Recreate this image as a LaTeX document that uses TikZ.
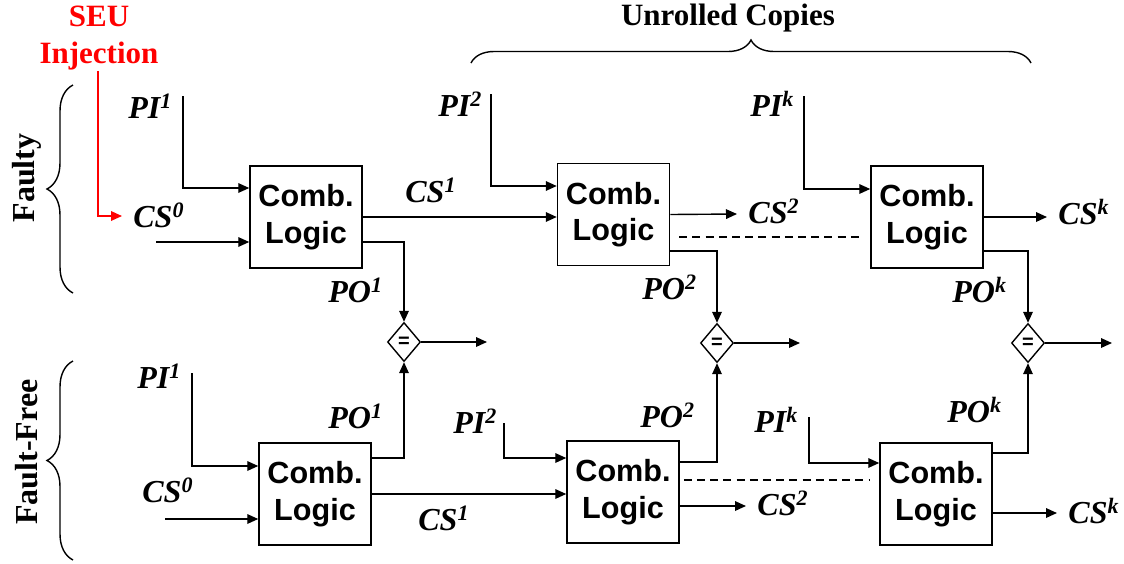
\documentclass[tikz,border=0pt]{standalone}
\usepackage{fontspec}
\setmainfont{Liberation Serif}
\newfontfamily\arialfont{Liberation Sans}
\usetikzlibrary{arrows.meta,shapes.geometric,decorations.pathreplacing}
\newcommand\ssup[1]{\raisebox{4.6pt}{\fontsize{11}{11}\selectfont #1}}
\begin{document}
\begin{tikzpicture}[x=0.5pt,y=-0.5pt,
  logic/.style={draw, line width=0.75pt, minimum width=56pt, minimum height=51pt, inner sep=0pt,
    align=center, font=\arialfont\bfseries\fontsize{15.3}{18.3}\selectfont},
  cmp/.style={draw, diamond, line width=0.7pt, minimum width=16.5pt, minimum height=19.5pt, inner sep=0pt,
    font=\arialfont\bfseries\fontsize{10}{10}\selectfont},
  lbl/.style={inner sep=0pt, anchor=base west, font=\fontsize{16}{18}\selectfont\bfseries\itshape},
  wire/.style={line width=0.7pt},
  arr/.style={wire, -{Triangle[length=5.5pt,width=4.8pt]}},
  cont/.style={wire, dash pattern=on 4pt off 2.6pt},
  grp/.style={font=\fontsize{16}{18}\selectfont\bfseries},
  brc/.style={wire, decorate}
]
\useasboundingbox (0,0) rectangle (1124,563);

% ---------- blocks ----------
\node[logic] (b1) at (306,217) {Comb.\\Logic};
\node[logic] (b2) at (613.5,214.5) {Comb.\\Logic};
\node[logic] (b3) at (927,217) {Comb.\\Logic};
\node[logic] (b4) at (315,494) {Comb.\\Logic};
\node[logic] (b5) at (623,492) {Comb.\\Logic};
\node[logic] (b6) at (936,494) {Comb.\\Logic};

\node[cmp] (d1) at (404,342) {=};
\node[cmp] (d2) at (717,343) {=};
\node[cmp] (d3) at (1028,343) {=};

% ---------- labels ----------
\node[lbl] (pi1t) at (128,118) {PI\ssup{1}};
\node[lbl] (cs0t) at (133,227) {CS\ssup{0}};
\node[lbl] (po1t) at (328,302) {PO\ssup{1}};
\node[lbl] (cs1t) at (405,202) {CS\ssup{1}};
\node[lbl] (pi2t) at (438,116) {PI\ssup{2}};
\node[lbl] (cs2t) at (748,223) {CS\ssup{2}};
\node[lbl] (po2t) at (642,299) {PO\ssup{2}};
\node[lbl] (pikt) at (750,116) {PI\ssup{k}};
\node[lbl] (cskt) at (1058,224) {CS\ssup{k}};
\node[lbl] (pokt) at (952,302) {PO\ssup{k}};

\node[lbl] (pi1b) at (137,388) {PI\ssup{1}};
\node[lbl] (cs0b) at (142,502) {CS\ssup{0}};
\node[lbl] (po1b) at (328,428) {PO\ssup{1}};
\node[lbl] (cs1b) at (418,530) {CS\ssup{1}};
\node[lbl] (pi2b) at (453,433) {PI\ssup{2}};
\node[lbl] (po2b) at (640,427) {PO\ssup{2}};
\node[lbl] (cs2b) at (757,515) {CS\ssup{2}};
\node[lbl] (pikb) at (754,432) {PI\ssup{k}};
\node[lbl] (pokb) at (947,422) {PO\ssup{k}};
\node[lbl] (cskb) at (1068,523) {CS\ssup{k}};

\node[red, inner sep=0pt, anchor=north, align=center, font=\fontsize{15.5}{18.5}\selectfont\bfseries]
  (seu) at (99,6) {SEU\\Injection};
\node[grp, rotate=90] (faulty) at (27,178) {Faulty};
\node[grp, rotate=90] (ffree) at (27,452) {Fault-Free};
\node[grp, anchor=base, font=\fontsize{15.5}{18}\selectfont\bfseries] (unr) at (728,25) {Unrolled Copies};

% ---------- free ends ----------
\coordinate (pi1ta) at (183,96);
\coordinate (cs0ta) at (156,242);
\coordinate (seue)  at (122,216);
\coordinate (pi2ta) at (491,94);
\coordinate (cs2te) at (737,214);
\coordinate (pikta) at (804,96);
\coordinate (cskte) at (1047,217);
\coordinate (o1) at (487,342);
\coordinate (o2) at (800,343);
\coordinate (o3) at (1112,343);
\coordinate (pi1ba) at (192,373);
\coordinate (cs0ba) at (165,519);
\coordinate (pi2ba) at (504,423);
\coordinate (cs2be) at (746,506);
\coordinate (pikba) at (809,417);
\coordinate (cskbe) at (1057,513);

% ---------- faulty row ----------
\draw[arr] (pi1ta) |- ([yshift=14.5pt]b1.west);
\draw[arr] (cs0ta) -- ([yshift=-12.5pt]b1.west);
\draw[arr, red] ([xshift=-0.5pt]seu.south) |- (seue);
\draw[arr] (b1.east) -- (b1.east -| b2.west);
\draw[arr] ([yshift=-12.5pt]b1.east) -| (d1.north);

\draw[arr] (pi2ta) |- ([yshift=14.25pt]b2.west);
\draw[arr] (b2.east) -- (cs2te);
\draw[arr] ([yshift=-18.25pt]b2.east) -| (d2.north);
\path ([yshift=-11.25pt]b2.east) coordinate (dt1);
\draw[cont] ([xshift=4.5pt]dt1) -- ([xshift=-4.5pt]dt1 -| b3.west);

\draw[arr] (pikta) |- ([yshift=14pt]b3.west);
\draw[arr] (b3.east) -- (cskte);
\draw[arr] ([yshift=-17pt]b3.east) -| (d3.north);

% ---------- comparators ----------
\draw[arr] (d1.east) -- (o1);
\draw[arr] (d2.east) -- (o2);
\draw[arr] (d3.east) -- (o3);

% ---------- fault-free row ----------
\draw[arr] (pi1ba) |- ([yshift=14pt]b4.west);
\draw[arr] (cs0ba) -- ([yshift=-12.5pt]b4.west);
\draw[arr] ([yshift=18pt]b4.east) -| (d1.south);
\draw[arr] (b4.east) -- (b4.east -| b5.west);

\draw[arr] (pi2ba) |- ([yshift=17pt]b5.west);
\draw[arr] ([yshift=15pt]b5.east) -| (d2.south);
\draw[arr] ([yshift=-7pt]b5.east) -- (cs2be);
\path ([yshift=6pt]b5.east) coordinate (dt2);
\draw[cont] ([xshift=2pt]dt2) -- ([xshift=-4.5pt]dt2 -| b6.west);

\draw[arr] (pikba) |- ([yshift=15.5pt]b6.west);
\draw[arr] ([yshift=20.5pt]b6.east) -| (d3.south);
\draw[arr] ([yshift=-9.5pt]b6.east) -- (cskbe);

% ---------- braces ----------
\draw[brc, decoration={brace, amplitude=13pt}] (73,293) -- (73,85);
\draw[brc, decoration={brace, amplitude=13pt}] (73,560) -- (73,361);
\draw[brc, decoration={brace, amplitude=11.5pt}] (471,63) -- (1031,63);
\end{tikzpicture}
\end{document}
